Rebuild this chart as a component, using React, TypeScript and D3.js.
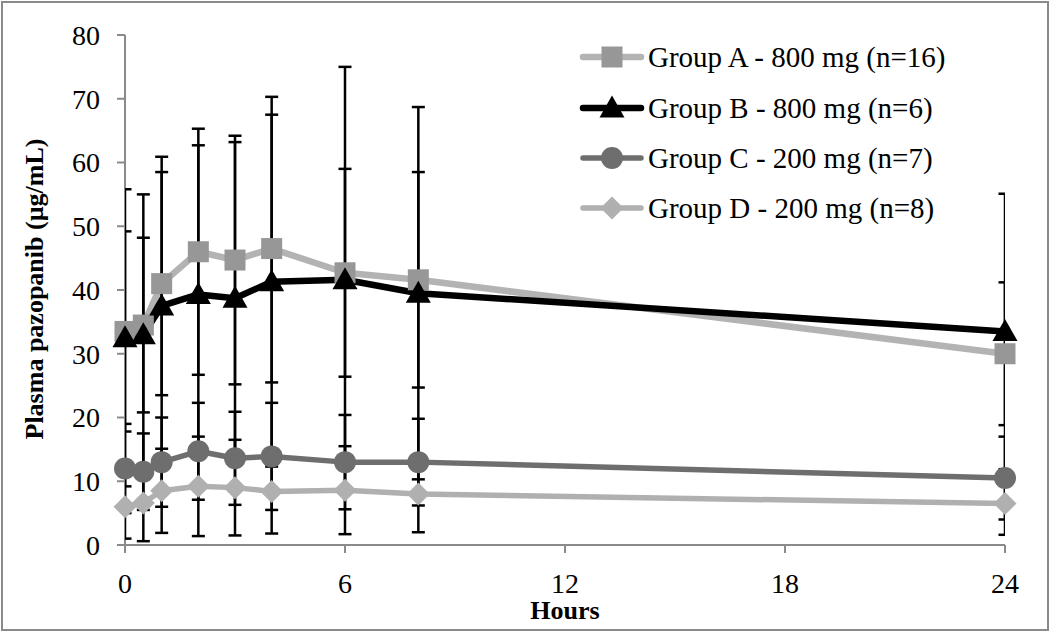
import React from "react";
import * as d3 from "d3";

const hours = [0, 0.5, 1, 2, 3, 4, 6, 8, 24];
const meanA = [33.5, 34.5, 41, 46, 44.7, 46.5, 42.7, 41.6, 30];
const sdA = [15.7, 13.7, 17.5, 19.3, 19.5, 21, 16.3, 16.9, 11.2];
const meanB = [32.5, 33, 37.5, 39.3, 38.7, 41.3, 41.6, 39.5, 33.5];
const sdB = [23.3, 22, 23.4, 23.4, 24.5, 29, 33.4, 29.2, 21.6];
const meanC = [12, 11.5, 13, 14.7, 13.6, 13.9, 13, 13, 10.5];
const sdC = [7, 6, 7, 7.6, 7.3, 8.4, 7.4, 6.8, 6.5];
const meanD = [6, 6.6, 8.5, 9.2, 9, 8.4, 8.6, 8, 6.5];
const sdD = [5, 6, 6.6, 7.8, 7.5, 6.6, 6.9, 6, 4.9];
const xTicks = [0, 6, 12, 18, 24];
const yTicks = [0, 10, 20, 30, 40, 50, 60, 70, 80];
const groupLabels = [
  "Group A - 800 mg (n=16)",
  "Group B - 800 mg (n=6)",
  "Group C - 200 mg (n=7)",
  "Group D - 200 mg (n=8)",
];

const W = 1050;
const H = 632;
const FONT = "'Liberation Serif', 'Times New Roman', serif";

type Series = {
  label: string;
  mean: number[];
  sd: number[];
  line: string;
  fill: string;
  lw: number;
  shape: "square" | "triangle" | "circle" | "diamond";
};

const series: Series[] = [
  { label: groupLabels[0], mean: meanA, sd: sdA, line: "#b3b3b3", fill: "#979797", lw: 6.5, shape: "square" },
  { label: groupLabels[1], mean: meanB, sd: sdB, line: "#000000", fill: "#000000", lw: 6.5, shape: "triangle" },
  { label: groupLabels[2], mean: meanC, sd: sdC, line: "#6e6e6e", fill: "#6e6e6e", lw: 5.5, shape: "circle" },
  { label: groupLabels[3], mean: meanD, sd: sdD, line: "#b0b0b0", fill: "#b0b0b0", lw: 5.5, shape: "diamond" },
];

function Marker({ shape, cx, cy, fill }: { shape: string; cx: number; cy: number; fill: string }) {
  if (shape === "square") return <rect x={cx - 10.5} y={cy - 10.5} width={21} height={21} fill={fill} />;
  if (shape === "circle") return <circle cx={cx} cy={cy} r={11} fill={fill} />;
  if (shape === "triangle")
    return <path d={`M${cx},${cy - 12.5} L${cx + 12.5},${cy + 9.5} L${cx - 12.5},${cy + 9.5} Z`} fill={fill} />;
  return <path d={`M${cx},${cy - 11.5} L${cx + 11.5},${cy} L${cx},${cy + 11.5} L${cx - 11.5},${cy} Z`} fill={fill} />;
}

export default function App() {
  const x = d3.scaleLinear().domain([0, 24]).range([125, 1005]);
  const y = d3.scaleLinear().domain([0, 80]).range([545, 35]);
  const line = d3
    .line<number>()
    .x((_, i) => x(hours[i]))
    .y((d) => y(d));

  const legendY = [57, 108, 158, 208];

  return (
    <svg
      width={W}
      height={H}
      style={{ position: "fixed", left: 0, top: 0, background: "#fff" }}
      fontFamily={FONT}
    >
      <defs>
        <clipPath id="plotClip">
          <rect x={x(0)} y={0} width={x(24) - x(0)} height={H} />
        </clipPath>
      </defs>
      <rect x={0} y={0} width={W} height={H} fill="#fff" />
      <rect x={2} y={2} width={W - 4} height={H - 4} fill="none" stroke="#8a8a8a" strokeWidth={2} />

      {/* axes */}
      <line x1={x(0)} x2={x(0)} y1={y(80)} y2={y(0)} stroke="#8a8a8a" strokeWidth={2} />
      <line x1={x(0)} x2={x(24)} y1={y(0)} y2={y(0)} stroke="#8a8a8a" strokeWidth={2} />
      {yTicks.map((t) => (
        <g key={"y" + t}>
          <line x1={x(0) - 8} x2={x(0)} y1={y(t)} y2={y(t)} stroke="#8a8a8a" strokeWidth={2} />
          <text x={100} y={y(t)} dy="0.35em" textAnchor="end" fontSize={28} fill="#000">
            {t}
          </text>
        </g>
      ))}
      {xTicks.map((t) => (
        <g key={"x" + t}>
          <line x1={x(t)} x2={x(t)} y1={y(0)} y2={y(0) + 8} stroke="#8a8a8a" strokeWidth={2} />
          <text x={x(t)} y={593} textAnchor="middle" fontSize={28} fill="#000">
            {t}
          </text>
        </g>
      ))}
      <text x={565} y={619} textAnchor="middle" fontSize={26} fontWeight="bold" fill="#000">
        Hours
      </text>
      <text
        transform={`translate(43, 289) rotate(-90)`}
        textAnchor="middle"
        fontSize={26}
        fontWeight="bold"
        fill="#000"
      >
        Plasma pazopanib (µg/mL)
      </text>

      {/* lines */}
      {series.map((s) => (
        <path key={"l" + s.label} d={line(s.mean) || ""} fill="none" stroke={s.line} strokeWidth={s.lw} strokeLinejoin="round" />
      ))}

      {/* error bars */}
      <g clipPath="url(#plotClip)" stroke="#000" strokeWidth={2.5}>
        {series.map((s) =>
          s.mean.map((m, i) => {
            const cx = x(hours[i]);
            const hi = y(m + s.sd[i]);
            const lo = y(Math.max(0, m - s.sd[i]));
            return (
              <g key={s.label + i}>
                <line x1={cx} x2={cx} y1={hi} y2={lo} />
                <line x1={cx - 6.5} x2={cx + 6.5} y1={hi} y2={hi} />
                <line x1={cx - 6.5} x2={cx + 6.5} y1={lo} y2={lo} />
              </g>
            );
          })
        )}
      </g>

      {/* markers */}
      {series.map((s) =>
        s.mean.map((m, i) => (
          <Marker key={"m" + s.label + i} shape={s.shape} cx={x(hours[i])} cy={y(m)} fill={s.fill} />
        ))
      )}

      {/* legend */}
      {series.map((s, k) => (
        <g key={"lg" + k}>
          <line x1={583} x2={641} y1={legendY[k]} y2={legendY[k]} stroke={s.line} strokeWidth={s.lw} strokeLinecap="round" />
          <Marker shape={s.shape} cx={612} cy={legendY[k]} fill={s.fill} />
          <text x={648} y={legendY[k]} dy="0.35em" fontSize={29} fill="#000">
            {s.label}
          </text>
        </g>
      ))}
    </svg>
  );
}
